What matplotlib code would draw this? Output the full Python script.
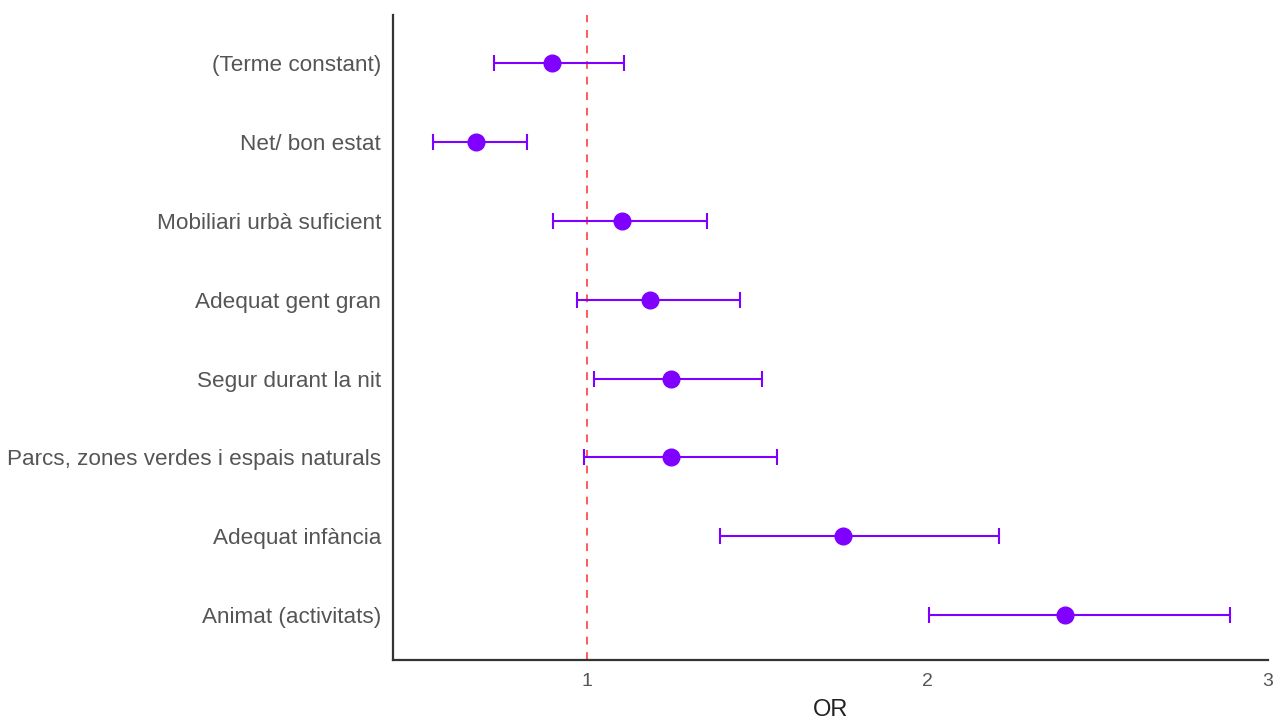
import matplotlib
matplotlib.use("Agg")
import matplotlib.pyplot as plt

labels = ["(Terme constant)", "Net/ bon estat", "Mobiliari urbà suficient",
          "Adequat gent gran", "Segur durant la nit",
          "Parcs, zones verdes i espais naturals", "Adequat infància",
          "Animat (activitats)"]
or_vals = [0.897, 0.674, 1.103, 1.185, 1.247, 1.247, 1.752, 2.404]
ci_low = [0.727, 0.548, 0.900, 0.971, 1.021, 0.991, 1.391, 2.003]
ci_high = [1.109, 0.824, 1.352, 1.449, 1.514, 1.558, 2.210, 2.888]
xticks = [1, 2, 3]

plt.rcParams['font.family'] = ['Liberation Sans', 'DejaVu Sans']

fig = plt.figure(figsize=(12.75, 7.22), dpi=100)
ax = fig.add_axes([393/1275, 1-660/722, (1268-393)/1275, (660-15)/722])

n = len(labels)
ypos = list(range(n - 1, -1, -1))
purple = "#8000FF"
xerr = [[o - l for o, l in zip(or_vals, ci_low)], [h - o for o, h in zip(or_vals, ci_high)]]
ax.axvline(1, color="#FF5A5A", linestyle=(0, (4, 4)), linewidth=1.4, zorder=1)
ax.errorbar(or_vals, ypos, xerr=xerr, fmt="o", color=purple, ecolor=purple,
            markersize=12, elinewidth=1.5, capsize=6, capthick=1.5, zorder=3)

ax.set_xlim(0.43, 3.0)
ax.set_ylim(-0.57, n - 1 + 0.61)
ax.set_yticks(ypos)
ax.set_yticklabels(labels, fontsize=16.2, color="#555555")
ax.set_xticks(xticks)
ax.set_xticklabels([str(t) for t in xticks], fontsize=14, color="#555555")
ax.tick_params(length=0)
ax.tick_params(axis='x', pad=9)
ax.tick_params(axis='y', pad=8.5)
ax.set_xlabel("OR", fontsize=17, color="#222222", labelpad=7)
for s in ["top", "right"]:
    ax.spines[s].set_visible(False)
for s in ["left", "bottom"]:
    ax.spines[s].set_linewidth(1.6)
    ax.spines[s].set_color("#333333")

fig.savefig("out.png", dpi=100)
